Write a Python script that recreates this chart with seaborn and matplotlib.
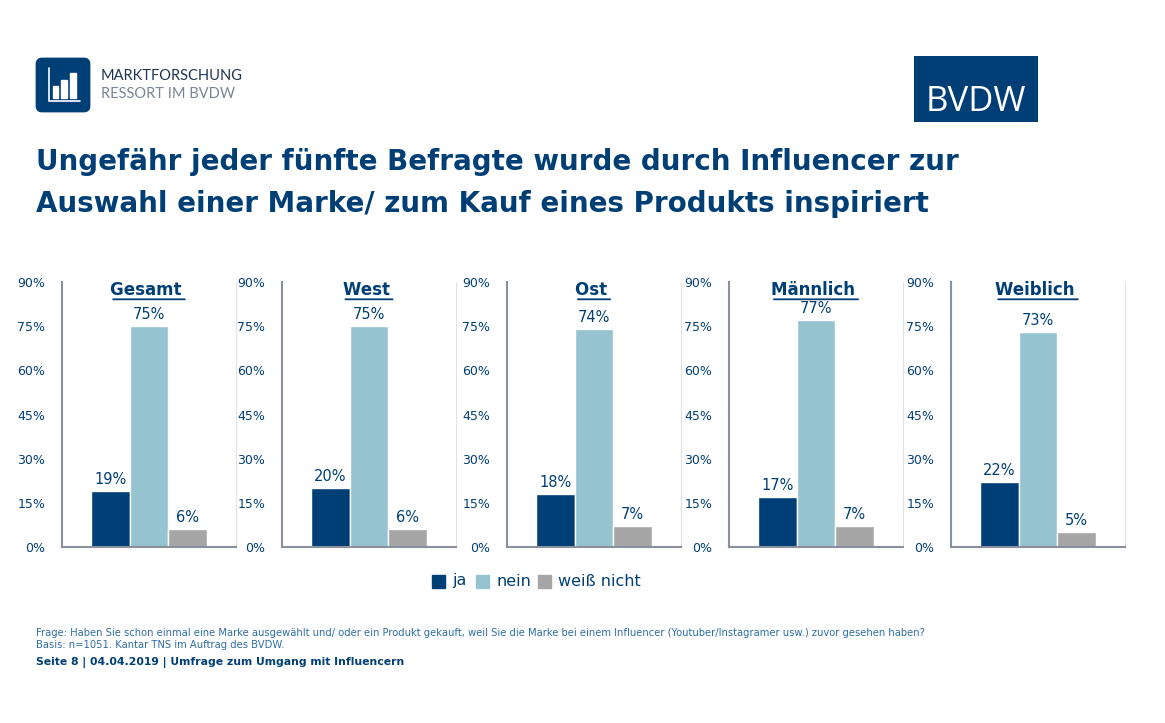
import pandas as pd
import matplotlib.pyplot as plt
import seaborn as sns
from matplotlib.patches import FancyBboxPatch, Rectangle

sns.set_style('white')
plt.rcParams['font.family'] = ['Verdana', 'DejaVu Sans']

groups = ['Gesamt', 'West', 'Ost', 'Männlich', 'Weiblich']
answers = ['ja', 'nein', 'weiß nicht']
ja = [19, 20, 18, 17, 22]
nein = [75, 75, 74, 77, 73]
weiss = [6, 6, 7, 7, 5]
colors = ['#003f76', '#95c3d0', '#a6a6a6']
navy = '#003f76'

W, H = 1165, 723
fig = plt.figure(figsize=(W / 100, H / 100), dpi=100)

def px(x, y, w, h):
    return [x / W, 1 - (y + h) / H, w / W, h / H]

# logos
lg = fig.add_axes(px(34, 56, 58, 58))
lg.axis('off')
lg.add_patch(FancyBboxPatch((0.04, 0.04), 0.92, 0.92, boxstyle='round,pad=0,rounding_size=0.1', color=navy))
lg.plot([0.25, 0.25, 0.8], [0.8, 0.22, 0.22], color='white', lw=1.2)
for bx, bh in [(0.32, 0.2), (0.47, 0.3), (0.62, 0.42)]:
    lg.add_patch(Rectangle((bx, 0.28), 0.1, bh, color='white'))
lg.set_xlim(0, 1); lg.set_ylim(0, 1)
fig.text(101 / W, 1 - 76 / H, 'MARKTFORSCHUNG', fontsize=10.5, color='#1f3550', va='center', family=['Lato', 'DejaVu Sans'])
fig.text(101 / W, 1 - 94 / H, 'RESSORT IM BVDW', fontsize=10.5, color='#7a8593', va='center', family=['Lato', 'DejaVu Sans'])
bv = fig.add_axes(px(914, 56, 124, 66))
bv.set_facecolor(navy)
bv.set_xticks([]); bv.set_yticks([])
for s in bv.spines.values():
    s.set_visible(False)
bv.text(0.5, 0.3, 'BVDW', color='white', fontsize=25, ha='center', va='center', transform=bv.transAxes, family=['Open Sans', 'DejaVu Sans'])

fig.text(36 / W, 1 - 162 / H, 'Ungefähr jeder fünfte Befragte wurde durch Influencer zur', fontsize=20, fontweight='bold', color=navy, va='center')
fig.text(36 / W, 1 - 204 / H, 'Auswahl einer Marke/ zum Kauf eines Produkts inspiriert', fontsize=20, fontweight='bold', color=navy, va='center')

lefts = [62, 282, 507, 729, 951]
for i, g in enumerate(groups):
    ax = fig.add_axes(px(lefts[i], 282, 174, 265))
    df = pd.DataFrame({'pos': [0, 1, 2], 'answer': answers, 'value': [ja[i], nein[i], weiss[i]]})
    sns.barplot(data=df, x='pos', y='value', hue='answer', palette=colors, dodge=False,
                width=1.0, ax=ax, legend=False, native_scale=True, saturation=1)
    for p, v in zip(df['pos'], df['value']):
        ax.text(p, v + 1.5, f'{v}%', ha='center', va='bottom', fontsize=10.5, color=navy)
    ax.set_xlim(-1.25, 3.25)
    ax.set_ylim(0, 90)
    ax.set_yticks(range(0, 91, 15))
    ax.set_yticklabels([f'{t}%' for t in range(0, 91, 15)], fontsize=9, color=navy)
    ax.set_xticks([])
    ax.set_xlabel(''); ax.set_ylabel('')
    ax.tick_params(axis='y', length=4, color='#8a919c', pad=8)
    ax.spines['top'].set_visible(False)
    ax.spines['right'].set_color('#e3e3e3')
    for s in ['left', 'bottom']:
        ax.spines[s].set_color('#8a919c'); ax.spines[s].set_linewidth(1.5)
    t = ax.text(0.5, 0.97, g + ' ', transform=ax.transAxes, ha='center', va='center', fontsize=12,
                fontweight='bold', color=navy)
    ax.annotate('', xy=(0, -0.02), xycoords=t, xytext=(1, -0.02), textcoords=t,
                arrowprops=dict(arrowstyle='-', color=navy, lw=1.3))

# legend
lx = [432, 476, 538]
for c, a, x in zip(colors, answers, lx):
    fig.patches.append(Rectangle((x / W, 1 - 588 / H), 13 / W, 13 / H, color=c, transform=fig.transFigure))
    fig.text((x + 20) / W, 1 - 581 / H, a, fontsize=11.5, color=navy, va='center')

fig.text(36 / W, 1 - 633 / H, 'Frage: Haben Sie schon einmal eine Marke ausgewählt und/ oder ein Produkt gekauft, weil Sie die Marke bei einem Influencer (Youtuber/Instagramer usw.) zuvor gesehen haben?', fontsize=7.2, color='#2f6ea5', va='center')
fig.text(36 / W, 1 - 645 / H, 'Basis: n=1051. Kantar TNS im Auftrag des BVDW.', fontsize=7.2, color='#2f6ea5', va='center')
fig.text(36 / W, 1 - 663 / H, 'Seite 8 | 04.04.2019 | Umfrage zum Umgang mit Influencern', fontsize=7.8, fontweight='bold', color=navy, va='center')

fig.savefig('out.png', dpi=100)
